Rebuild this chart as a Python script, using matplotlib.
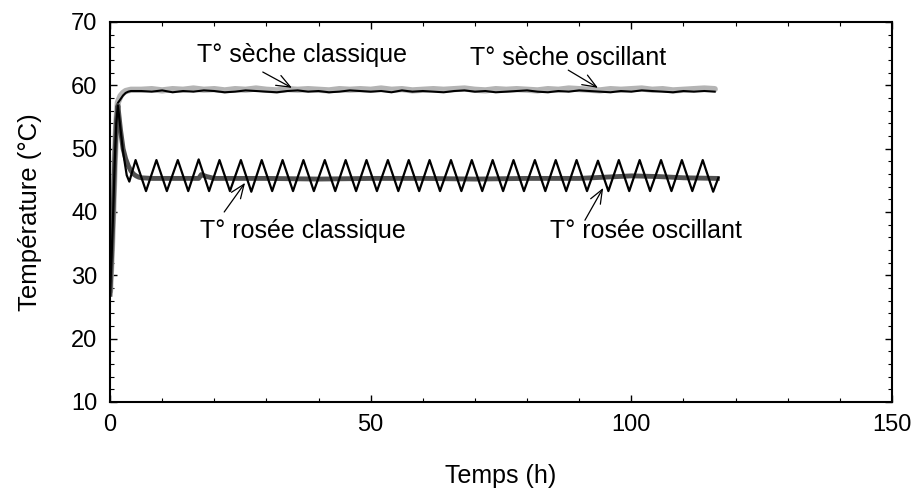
import numpy as np
import matplotlib
matplotlib.use("Agg")
import matplotlib.pyplot as plt
from matplotlib.ticker import MultipleLocator

plt.rcParams['font.family'] = ['Liberation Sans', 'DejaVu Sans']

# T° sèche classique (gris clair, trait epais)
seche_cl_t_debut = [0, 0.3, 0.6, 0.9, 1.2, 1.5, 2.0, 2.5, 3.0, 4.0]
seche_cl_debut = [27.5, 33, 40, 48, 54, 57.3, 58.3, 58.8, 59.1, 59.3]
# T° sèche oscillant (noir, trait fin)
seche_osc_t_debut = [0, 0.2, 0.4, 0.6, 0.8, 1.0, 1.2, 1.5, 2.0, 2.5, 3.0, 3.5, 4.0]
seche_osc_debut = [27, 31, 36, 42, 48, 53, 56, 57.2, 57.8, 58.4, 58.8, 59.0, 59.1]

# plateau, un point toutes les 2 h (6 h -> 116 h)
plateau_t = np.arange(6, 117, 2)
seche_cl_plateau = [59.3, 59.4, 59.2, 59.4, 59.3, 59.5, 59.3, 59.4,
                    59.2, 59.4, 59.3, 59.5, 59.3, 59.2, 59.4, 59.3,
                    59.4, 59.3, 59.2, 59.4, 59.3, 59.4, 59.3, 59.5,
                    59.3, 59.4, 59.2, 59.3, 59.4, 59.3, 59.4, 59.5,
                    59.3, 59.2, 59.4, 59.3, 59.4, 59.3, 59.2, 59.4,
                    59.3, 59.5, 59.4, 59.3, 59.2, 59.4, 59.3, 59.4,
                    59.5, 59.3, 59.4, 59.2, 59.3, 59.4, 59.5, 59.4]
seche_osc_plateau = [59.1, 59.0, 59.2, 58.9, 59.1, 59.0, 59.2, 59.1,
                     58.9, 59.0, 59.2, 59.1, 59.0, 58.9, 59.1, 59.2,
                     59.0, 59.1, 58.9, 59.0, 59.2, 59.1, 59.0, 59.1,
                     58.9, 59.2, 59.0, 59.1, 59.0, 58.9, 59.1, 59.2,
                     59.0, 59.1, 58.9, 59.0, 59.1, 59.2, 59.0, 58.9,
                     59.1, 59.0, 59.2, 59.1, 59.0, 58.9, 59.1, 59.0,
                     59.2, 59.1, 59.0, 58.9, 59.1, 59.0, 59.1, 59.0]

# T° rosée classique (gris fonce, trait epais)
rosee_cl_t = [0, 0.3, 0.6, 0.9, 1.2, 1.5, 2.0, 2.5, 3.0, 3.5, 4.0, 4.5, 5.0, 5.5,
              6.0, 8, 12, 17, 17.5, 18.5, 20, 30, 40, 50, 60, 70, 80, 90, 95,
              100, 105, 110, 116.5]
rosee_cl = [27, 33, 40, 48, 54, 56.8, 53.0, 50.0, 48.4, 47.3, 46.5, 46.0, 45.7, 45.5,
            45.4, 45.3, 45.3, 45.3, 45.9, 45.6, 45.3, 45.3, 45.2, 45.3, 45.3, 45.2,
            45.3, 45.3, 45.5, 45.7, 45.6, 45.4, 45.3]

# T° rosée oscillant (noir, trait fin) : sommets et creux
rosee_osc_t = [0, 0.3, 0.6, 0.9, 1.2, 1.5, 2.5, 3.2, 3.7,
               4.9, 6.9, 8.9, 10.9, 13.0, 15.0, 17.0, 19.0, 21.0, 23.0,
               25.1, 27.1, 29.1, 31.1, 33.1, 35.1, 37.1, 39.1, 41.2, 43.2,
               45.2, 47.2, 49.2, 51.2, 53.3, 55.3, 57.3, 59.3, 61.3, 63.3,
               65.4, 67.4, 69.4, 71.4, 73.4, 75.4, 77.4, 79.4, 81.5, 83.5,
               85.5, 87.5, 89.5, 91.5, 93.6, 95.6, 97.6, 99.6, 101.6, 103.6,
               105.7, 107.7, 109.7, 111.7, 113.7, 115.7, 116.7]
rosee_osc = [27, 33, 40, 48, 54, 56.8, 49.5, 45.8, 44.8,
             48.2, 43.3, 48.2, 43.3, 48.2, 43.3, 48.3, 43.3, 48.2, 43.3,
             48.2, 43.2, 48.2, 43.3, 48.2, 43.3, 48.2, 43.3, 48.2, 43.3,
             48.2, 43.3, 48.2, 43.3, 48.2, 43.3, 48.2, 43.3, 48.2, 43.3,
             48.2, 43.3, 48.2, 43.3, 48.2, 43.3, 48.2, 43.3, 48.2, 43.3,
             48.2, 43.3, 48.2, 43.3, 48.1, 43.3, 48.2, 43.3, 48.2, 43.3,
             48.2, 43.3, 48.2, 43.3, 48.2, 43.2, 45.4]

seche_cl_t = list(seche_cl_t_debut) + list(plateau_t)
seche_cl = seche_cl_debut + seche_cl_plateau
seche_osc_t = list(seche_osc_t_debut) + list(plateau_t)
seche_osc = seche_osc_debut + seche_osc_plateau

fig = plt.figure(figsize=(9.17, 4.93), dpi=100)
ax = fig.add_axes([0.12, 0.1846, 0.8527, 0.7708])

ax.plot(seche_cl_t, seche_cl, color='#b4b4b4', lw=4.5, solid_capstyle='round')
ax.plot(seche_osc_t, seche_osc, color='black', lw=1.5)
ax.plot(rosee_cl_t, rosee_cl, color='#505050', lw=3.5)
ax.plot(rosee_osc_t, rosee_osc, color='black', lw=1.6)

ax.set_xlim(0, 150)
ax.set_ylim(10, 70)
ax.xaxis.set_major_locator(MultipleLocator(50))
ax.xaxis.set_minor_locator(MultipleLocator(10))
ax.yaxis.set_major_locator(MultipleLocator(10))
ax.yaxis.set_minor_locator(MultipleLocator(2))
ax.tick_params(which='both', direction='in', top=True, right=True, labelsize=17)
ax.tick_params(which='major', length=5, width=1)
ax.tick_params(which='minor', length=3, width=0.8)
ax.tick_params(axis='y', pad=9)
ax.tick_params(axis='x', pad=9)
for s in ax.spines.values():
    s.set_linewidth(1.5)

ax.set_xlabel('Temps (h)', fontsize=18, labelpad=20)
ax.set_ylabel('Température (°C)', fontsize=18.5, labelpad=21)

fleche = dict(arrowstyle='->,head_length=1.0,head_width=0.4', lw=0.9,
              color='black', shrinkA=0, shrinkB=0)
ax.text(16.6, 63.7, 'T° sèche classique', fontsize=18, va='baseline')
ax.annotate('', xy=(34.9, 59.6), xytext=(29.3, 62.1), arrowprops=fleche)
ax.text(69.1, 63.2, 'T° sèche oscillant', fontsize=18, va='baseline')
ax.annotate('', xy=(93.6, 59.6), xytext=(87.9, 62.4), arrowprops=fleche)
ax.text(17.3, 35.9, 'T° rosée classique', fontsize=18, va='baseline')
ax.annotate('', xy=(25.9, 44.6), xytext=(21.9, 40.0), arrowprops=fleche)
ax.text(84.4, 35.9, 'T° rosée oscillant', fontsize=18, va='baseline')
ax.annotate('', xy=(94.6, 43.8), xytext=(91.1, 38.7), arrowprops=fleche)

fig.savefig('out.png', dpi=100)
